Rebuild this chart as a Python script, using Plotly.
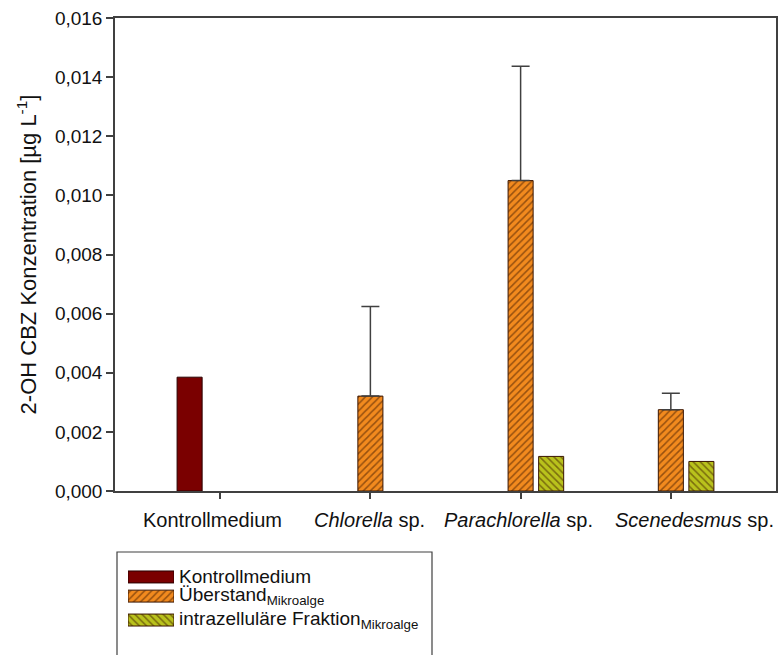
import plotly.graph_objects as go

# Categories and measured 2-OH CBZ concentrations (µg/L)
categories = ["Kontrollmedium", "<i>Chlorella</i> sp.", "<i>Parachlorella</i> sp.", "<i>Scenedesmus</i> sp."]
kontroll = [0.00385, None, None, None]
ueberstand = [None, 0.00321, 0.01050, 0.00275]
ueberstand_err = [0, 0.00303, 0.00387, 0.00056]
intrazellulaer = [None, None, 0.00117, 0.00100]

series_names = [
    "Kontrollmedium",
    "Überstand<sub>Mikroalge</sub>",
    "intrazelluläre Fraktion<sub>Mikroalge</sub>",
]

y_ticks = [0.000, 0.002, 0.004, 0.006, 0.008, 0.010, 0.012, 0.014, 0.016]

# horizontal nudges (px) for the category captions under the axis
label_offsets = [-8, -1, -2, 24]

RED = "#7a0000"
ORANGE = "#f28a1e"
GREEN = "#b9c21c"
HATCH = "#3a1500"
AXIS = "#404040"
TEXT = "#111111"
FONT = "Liberation Sans, Arial, sans-serif"

W, H = 778, 655
ML, MR, MT = 115, 2, 18
PW, PH = W - ML - MR, H - MT


def px_x(px):
    return (px - ML) / PW


def px_y(py):
    return (H - py) / PH


fig = go.Figure()

fig.add_trace(go.Bar(
    x=categories, y=kontroll, name=series_names[0],
    marker=dict(color=RED, line=dict(color="#2a0000", width=1)),
    showlegend=False,
))
fig.add_trace(go.Bar(
    x=categories, y=ueberstand, name=series_names[1],
    marker=dict(color=ORANGE, line=dict(color=HATCH, width=1),
                pattern=dict(shape="/", fgcolor=HATCH, bgcolor=ORANGE, size=5, solidity=0.3)),
    error_y=dict(type="data", symmetric=False, array=ueberstand_err,
                 arrayminus=[0, 0, 0, 0], color=AXIS, thickness=1.5, width=9),
    showlegend=False,
))
fig.add_trace(go.Bar(
    x=categories, y=intrazellulaer, name=series_names[2],
    marker=dict(color=GREEN, line=dict(color=HATCH, width=1),
                pattern=dict(shape="\\", fgcolor=HATCH, bgcolor=GREEN, size=5, solidity=0.3)),
    showlegend=False,
))

# Category captions below the x axis
for cat, dx in zip(categories, label_offsets):
    fig.add_annotation(
        x=cat, xref="x", y=px_y(520), yref="paper", text=cat, showarrow=False,
        xanchor="center", yanchor="middle", xshift=dx,
        font=dict(family=FONT, size=20, color=TEXT),
    )

# Legend: swatches as short horizontal bars on an inset axis, labels as annotations
legend_rows = [0, 0.8, 1.8]
swatch_styles = [
    dict(color=RED, line=dict(color="#2a0000", width=1)),
    dict(color=ORANGE, line=dict(color=HATCH, width=1),
         pattern=dict(shape="/", fgcolor=HATCH, bgcolor=ORANGE, size=5, solidity=0.3)),
    dict(color=GREEN, line=dict(color=HATCH, width=1),
         pattern=dict(shape="\\", fgcolor=HATCH, bgcolor=GREEN, size=5, solidity=0.3)),
]
for yi, style, nm in zip(legend_rows, swatch_styles, series_names):
    fig.add_trace(go.Bar(
        x=[1], y=[yi], base=[0], orientation="h", width=0.5,
        marker=style, xaxis="x2", yaxis="y2", showlegend=False, hoverinfo="skip",
        name=nm,
    ))
    fig.add_annotation(
        x=px_x(177), y=yi, xref="paper", yref="y2", text=nm, showarrow=False,
        xanchor="left", yanchor="middle",
        font=dict(family=FONT, size=19, color=TEXT),
    )

# legend frame (extends past the bottom edge)
fig.add_shape(type="rect", xref="paper", yref="paper",
              x0=px_x(117), x1=px_x(432), y0=px_y(700), y1=px_y(552),
              line=dict(color=AXIS, width=1.2), fillcolor="rgba(0,0,0,0)")

fig.update_layout(
    width=W, height=H,
    margin=dict(l=ML, r=MR, t=MT, b=0, autoexpand=False),
    paper_bgcolor="white", plot_bgcolor="white",
    barmode="group", bargap=0.39, bargroupgap=0.18,
    separators=",.",
    font=dict(family=FONT, size=19, color=TEXT),
    showlegend=False,
    xaxis=dict(
        range=[-0.7, 3.7], showline=True, linecolor=AXIS, linewidth=1.5,
        mirror=True, ticks="outside", ticklen=6, tickcolor=AXIS, tickwidth=1.5,
        showgrid=False, showticklabels=False, automargin=False,
        domain=[0, 1], anchor="y",
    ),
    yaxis=dict(
        domain=[px_y(491), 1], anchor="x",
        range=[0, 0.016], tickvals=y_ticks, tickformat=".3f",
        showline=True, linecolor=AXIS, linewidth=1.5, mirror=True,
        ticks="outside", ticklen=7, tickcolor=AXIS, tickwidth=1.5,
        showgrid=False, zeroline=False, automargin=False,
        tickfont=dict(size=19, family=FONT, color=TEXT),
        title=dict(text="2-OH CBZ Konzentration [µg L<sup>-1</sup>]",
                   font=dict(size=22, family=FONT, color=TEXT), standoff=12),
    ),
    xaxis2=dict(domain=[px_x(128), px_x(174)],
                range=[0, 1], anchor="y2", visible=False, fixedrange=True),
    yaxis2=dict(domain=[px_y(632), px_y(565)],
                range=[2.3, -0.5], anchor="x2", visible=False, fixedrange=True),
)

fig.write_html("out.html")
